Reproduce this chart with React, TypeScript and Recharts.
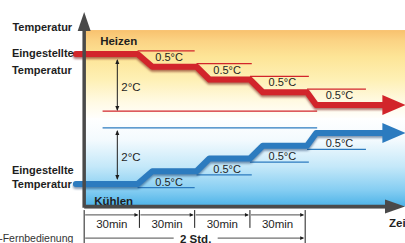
import {
  ComposedChart,
  Line,
  XAxis,
  YAxis,
  ReferenceLine,
  ReferenceArea,
  ReferenceDot,
} from "recharts";

const FONT = `"Liberation Sans", Arial, Helvetica, sans-serif`;

// time in minutes from switching on, temperature in °C relative to the set temperature
const stepStart = [29, 61, 90, 121];
const stepEnd = [37, 68, 97, 126];
const heatLevels = [0, -0.5, -1, -1.5, -2];
const coolLevels = [0, 0.5, 1, 1.5, 2];
const markEnd = [60, 91, 122, 153];
const stepLabels = ["0.5°C", "0.5°C", "0.5°C", "0.5°C"];
const curveStart = -4.5;
const curveEnd = 163;
const intervalBounds = [0, 30, 60, 90, 120];
const intervalLabels = ["30min", "30min", "30min", "30min"];
const totalLabel = "2 Std.";
const totalChange = "2°C";

// axis ranges
const X_MIN = -45.7;
const X_MAX = 174.2;
const HEAT_MAX = 2.118;
const HEAT_MIN = -7.412;
const COOL_MAX = 7.216;
const COOL_MIN = -2.314;

const RED = "#d2252b";
const BLUE = "#2c7bbf";
const AXIS = "#4a4a4a";
const INK = "#1e1e1e";

function buildCurve(levels: number[]) {
  const pts = [{ t: curveStart, v: levels[0] }];
  stepStart.forEach((s, i) => {
    pts.push({ t: s, v: levels[i] });
    pts.push({ t: stepEnd[i], v: levels[i + 1] });
  });
  pts.push({ t: curveEnd, v: levels[levels.length - 1] });
  return pts;
}

const heatCurve = buildCurve(heatLevels);
const coolCurve = buildCurve(coolLevels);

const arrowHead = (color: string, last: number) => (p: any) => {
  if (p.index !== last) return <g key={`d${p.index}`} />;
  const { cx, cy } = p;
  return (
    <polygon
      key={`d${p.index}`}
      points={`${cx - 2},${cy - 10} ${cx + 21},${cy} ${cx - 2},${cy + 10}`}
      fill={color}
    />
  );
};

const markShape = (color: string, text: string, below: boolean) => (p: any) => (
  <g>
    <line x1={p.x1} y1={p.y1} x2={p.x2} y2={p.y2} stroke={color} strokeWidth={1.2} />
    <text
      x={(p.x1 + p.x2) / 2 + 3}
      y={below ? p.y1 + 10 : p.y1 - 2}
      textAnchor="middle"
      fontSize={11}
      fontFamily={FONT}
      fill={INK}
    >
      {text}
    </text>
  </g>
);

const dimShape = (text: string) => (p: any) => {
  const top = Math.min(p.y1, p.y2);
  const bot = Math.max(p.y1, p.y2);
  const x = p.x1;
  return (
    <g>
      <line x1={x} y1={top + 1} x2={x} y2={bot - 1} stroke={INK} strokeWidth={1} />
      <polygon points={`${x},${top} ${x - 2},${top + 5} ${x + 2},${top + 5}`} fill={INK} />
      <polygon points={`${x},${bot} ${x - 2},${bot - 5} ${x + 2},${bot - 5}`} fill={INK} />
      <text x={x + 4} y={(top + bot) / 2 + 6} fontSize={11.5} fontFamily={FONT} fill={INK}>
        {text}
      </text>
    </g>
  );
};

const areaShape = (fill: string, text: string, top: boolean) => (p: any) => (
  <g>
    <rect x={p.x} y={p.y} width={p.width} height={p.height} fill={fill} />
    <text
      x={p.x + (top ? 16 : 10)}
      y={top ? p.y + 15 : p.y + p.height - 1.5}
      fontSize={11.5}
      fontWeight="bold"
      fontFamily={FONT}
      fill={INK}
    >
      {text}
    </text>
  </g>
);

const setLabel = (dy1: number, dy2: number) => (p: any) => (
  <g fontFamily={FONT} fontWeight="bold" fontSize={11} fill={INK}>
    <text x={p.cx} y={p.cy + dy1}>Eingestellte</text>
    <text x={p.cx} y={p.cy + dy2}>Temperatur</text>
  </g>
);

const vAxisShape = (p: any) => {
  const top = Math.min(p.y1, p.y2);
  const bot = Math.max(p.y1, p.y2);
  const x = p.x1;
  return (
    <g>
      <line x1={x} y1={top + 16} x2={x} y2={bot} stroke={AXIS} strokeWidth={3.5} />
      <polygon points={`${x},${top} ${x - 6.5},${top + 19} ${x + 6.5},${top + 19}`} fill={AXIS} />
      <text
        x={x - 12}
        y={top + 19}
        textAnchor="end"
        fontSize={11}
        fontWeight="bold"
        fontFamily={FONT}
        fill={INK}
      >
        Temperatur
      </text>
    </g>
  );
};

const hAxisShape = (p: any) => {
  const y = p.y1;
  const x0 = Math.min(p.x1, p.x2);
  const x1 = Math.max(p.x1, p.x2);
  return (
    <g>
      <line x1={x0} y1={y + 1.5} x2={x1 - 18} y2={y + 1.5} stroke="#b5b5b5" strokeWidth={2} />
      <line x1={x0} y1={y} x2={x1 - 18} y2={y} stroke={AXIS} strokeWidth={3.5} />
      <polygon points={`${x1 - 20},${y - 7} ${x1},${y} ${x1 - 20},${y + 7}`} fill={AXIS} />
      <text x={x1 - 16} y={y + 21} fontSize={11.5} fontWeight="bold" fontFamily={FONT} fill={INK}>
        Zeit
      </text>
      <text x={x0 - 85} y={y + 35.5} fontSize={10.5} fontFamily={FONT} fill="#333">
        -Fernbedienung
      </text>
    </g>
  );
};

const intervalShape = (text: string) => (p: any) => {
  const y = p.y1;
  return (
    <g>
      <line x1={p.x1 + 1} y1={y} x2={p.x2 - 2} y2={y} stroke={INK} strokeWidth={0.8} />
      <polygon points={`${p.x2 - 5},${y - 1.8} ${p.x2 - 1},${y} ${p.x2 - 5},${y + 1.8}`} fill={INK} />
      <text
        x={(p.x1 + p.x2) / 2}
        y={y + 13}
        textAnchor="middle"
        fontSize={11.5}
        fontFamily={FONT}
        fill={INK}
      >
        {text}
      </text>
    </g>
  );
};

const totalShape = (text: string) => (p: any) => {
  const y = p.y1;
  const mid = (p.x1 + p.x2) / 2 + 1;
  return (
    <g>
      <line x1={p.x1 + 1} y1={y} x2={mid - 22} y2={y} stroke={INK} strokeWidth={0.8} />
      <line x1={mid + 22} y1={y} x2={p.x2 - 2} y2={y} stroke={INK} strokeWidth={0.8} />
      <polygon points={`${p.x2 - 5},${y - 1.8} ${p.x2 - 1},${y} ${p.x2 - 5},${y + 1.8}`} fill={INK} />
      <text
        x={mid}
        y={y + 4.5}
        textAnchor="middle"
        fontSize={11.5}
        fontWeight="bold"
        fontFamily={FONT}
        fill={INK}
      >
        {text}
      </text>
    </g>
  );
};

export default function App() {
  return (
    <div
      style={{
        position: "absolute",
        left: 0,
        top: 0,
        width: 405,
        height: 243,
        overflow: "hidden",
        background: "#fff",
      }}
    >
      <style>{`.heat-curve{filter:drop-shadow(0 2px 1px rgba(110,10,10,.55))}
.cool-curve{filter:drop-shadow(0 2px 1px rgba(10,50,100,.5))}`}</style>
      <ComposedChart width={405} height={243} margin={{ top: 0, right: 0, bottom: 0, left: 0 }}>
        <defs>
          <linearGradient id="heatGrad" x1="0" y1="0" x2="0" y2="1">
            <stop offset="0" stopColor="#f8c16e" />
            <stop offset="0.12" stopColor="#fbd384" />
            <stop offset="0.3" stopColor="#fde597" />
            <stop offset="0.55" stopColor="#fef0b5" />
            <stop offset="0.8" stopColor="#fffae4" />
            <stop offset="1" stopColor="#ffffff" />
          </linearGradient>
          <linearGradient id="coolGrad" x1="0" y1="0" x2="0" y2="1">
            <stop offset="0" stopColor="#ffffff" />
            <stop offset="0.25" stopColor="#f3fafe" />
            <stop offset="0.55" stopColor="#c4e8f9" />
            <stop offset="0.82" stopColor="#84cdf2" />
            <stop offset="1" stopColor="#4cb2e7" />
          </linearGradient>
        </defs>
        <XAxis type="number" dataKey="t" domain={[X_MIN, X_MAX]} hide allowDataOverflow />
        <YAxis yAxisId="heat" type="number" domain={[HEAT_MIN, HEAT_MAX]} hide width={0} allowDataOverflow />
        <YAxis yAxisId="cool" type="number" domain={[COOL_MIN, COOL_MAX]} hide width={0} allowDataOverflow />

        <ReferenceArea
          yAxisId="heat"
          x1={0}
          x2={X_MAX}
          y1={0.94}
          y2={-2.6}
          ifOverflow="visible"
          shape={areaShape("url(#heatGrad)", "Heizen", true)}
        />
        <ReferenceArea
          yAxisId="cool"
          x1={0}
          x2={X_MAX}
          y1={2.59}
          y2={-0.88}
          ifOverflow="visible"
          shape={areaShape("url(#coolGrad)", "Kühlen", false)}
        />

        {stepStart.map((s, i) => (
          <ReferenceLine
            key={`hm${i}`}
            yAxisId="heat"
            ifOverflow="visible"
            segment={[
              { x: s, y: heatLevels[i] + 0.12 },
              { x: markEnd[i], y: heatLevels[i] + 0.12 },
            ]}
            shape={markShape(RED, stepLabels[i], true)}
          />
        ))}
        {stepStart.map((s, i) => (
          <ReferenceLine
            key={`cm${i}`}
            yAxisId="cool"
            ifOverflow="visible"
            segment={[
              { x: s, y: coolLevels[i] - 0.14 },
              { x: markEnd[i], y: coolLevels[i] - 0.14 },
            ]}
            shape={markShape(BLUE, stepLabels[i], false)}
          />
        ))}

        <ReferenceLine
          yAxisId="heat"
          ifOverflow="visible"
          segment={[
            { x: 10, y: heatLevels[4] - 0.24 },
            { x: 126.5, y: heatLevels[4] - 0.24 },
          ]}
          stroke={RED}
          strokeWidth={1.2}
        />
        <ReferenceLine
          yAxisId="cool"
          ifOverflow="visible"
          segment={[
            { x: 10, y: coolLevels[4] + 0.2 },
            { x: 126.5, y: coolLevels[4] + 0.2 },
          ]}
          stroke={BLUE}
          strokeWidth={1.2}
        />
        <ReferenceLine
          yAxisId="heat"
          ifOverflow="visible"
          segment={[
            { x: 18, y: heatLevels[0] - 0.2 },
            { x: 18, y: heatLevels[4] - 0.24 },
          ]}
          shape={dimShape(totalChange)}
        />
        <ReferenceLine
          yAxisId="cool"
          ifOverflow="visible"
          segment={[
            { x: 18, y: coolLevels[4] + 0.12 },
            { x: 18, y: coolLevels[0] + 0.16 },
          ]}
          shape={dimShape(totalChange)}
        />

        <Line
          data={heatCurve}
          dataKey="v"
          yAxisId="heat"
          type="linear"
          stroke={RED}
          strokeWidth={6}
          strokeLinejoin="round"
          strokeLinecap="round"
          className="heat-curve"
          dot={arrowHead(RED, heatCurve.length - 1)}
          activeDot={false}
          isAnimationActive={false}
        />
        <Line
          data={coolCurve}
          dataKey="v"
          yAxisId="cool"
          type="linear"
          stroke={BLUE}
          strokeWidth={6}
          strokeLinejoin="round"
          strokeLinecap="round"
          className="cool-curve"
          dot={arrowHead(BLUE, coolCurve.length - 1)}
          activeDot={false}
          isAnimationActive={false}
        />

        <ReferenceLine
          yAxisId="heat"
          ifOverflow="visible"
          segment={[
            { x: 0, y: 1.65 },
            { x: 0, y: -6.03 },
          ]}
          shape={vAxisShape}
        />
        <ReferenceLine
          yAxisId="heat"
          ifOverflow="visible"
          segment={[
            { x: 0, y: -5.98 },
            { x: X_MAX, y: -5.98 },
          ]}
          shape={hAxisShape}
        />

        {intervalLabels.map((lab, i) => (
          <ReferenceLine
            key={`iv${i}`}
            yAxisId="heat"
            ifOverflow="visible"
            segment={[
              { x: intervalBounds[i], y: -6.31 },
              { x: intervalBounds[i + 1], y: -6.31 },
            ]}
            shape={intervalShape(lab)}
          />
        ))}
        {intervalBounds.map((b, i) => (
          <ReferenceLine
            key={`tk${i}`}
            yAxisId="heat"
            ifOverflow="visible"
            segment={[
              { x: b, y: -6.12 },
              { x: b, y: i === 0 || i === intervalBounds.length - 1 ? HEAT_MIN : -6.82 },
            ]}
            stroke={INK}
            strokeWidth={1}
          />
        ))}
        <ReferenceLine
          yAxisId="heat"
          ifOverflow="visible"
          segment={[
            { x: intervalBounds[0], y: -7.22 },
            { x: intervalBounds[intervalBounds.length - 1], y: -7.22 },
          ]}
          shape={totalShape(totalLabel)}
        />

        <ReferenceDot
          yAxisId="heat"
          x={-39.2}
          y={heatLevels[0]}
          ifOverflow="visible"
          shape={setLabel(3, 20)}
        />
        <ReferenceDot
          yAxisId="cool"
          x={-39.2}
          y={coolLevels[0]}
          ifOverflow="visible"
          shape={setLabel(-10, 4)}
        />
      </ComposedChart>
    </div>
  );
}
